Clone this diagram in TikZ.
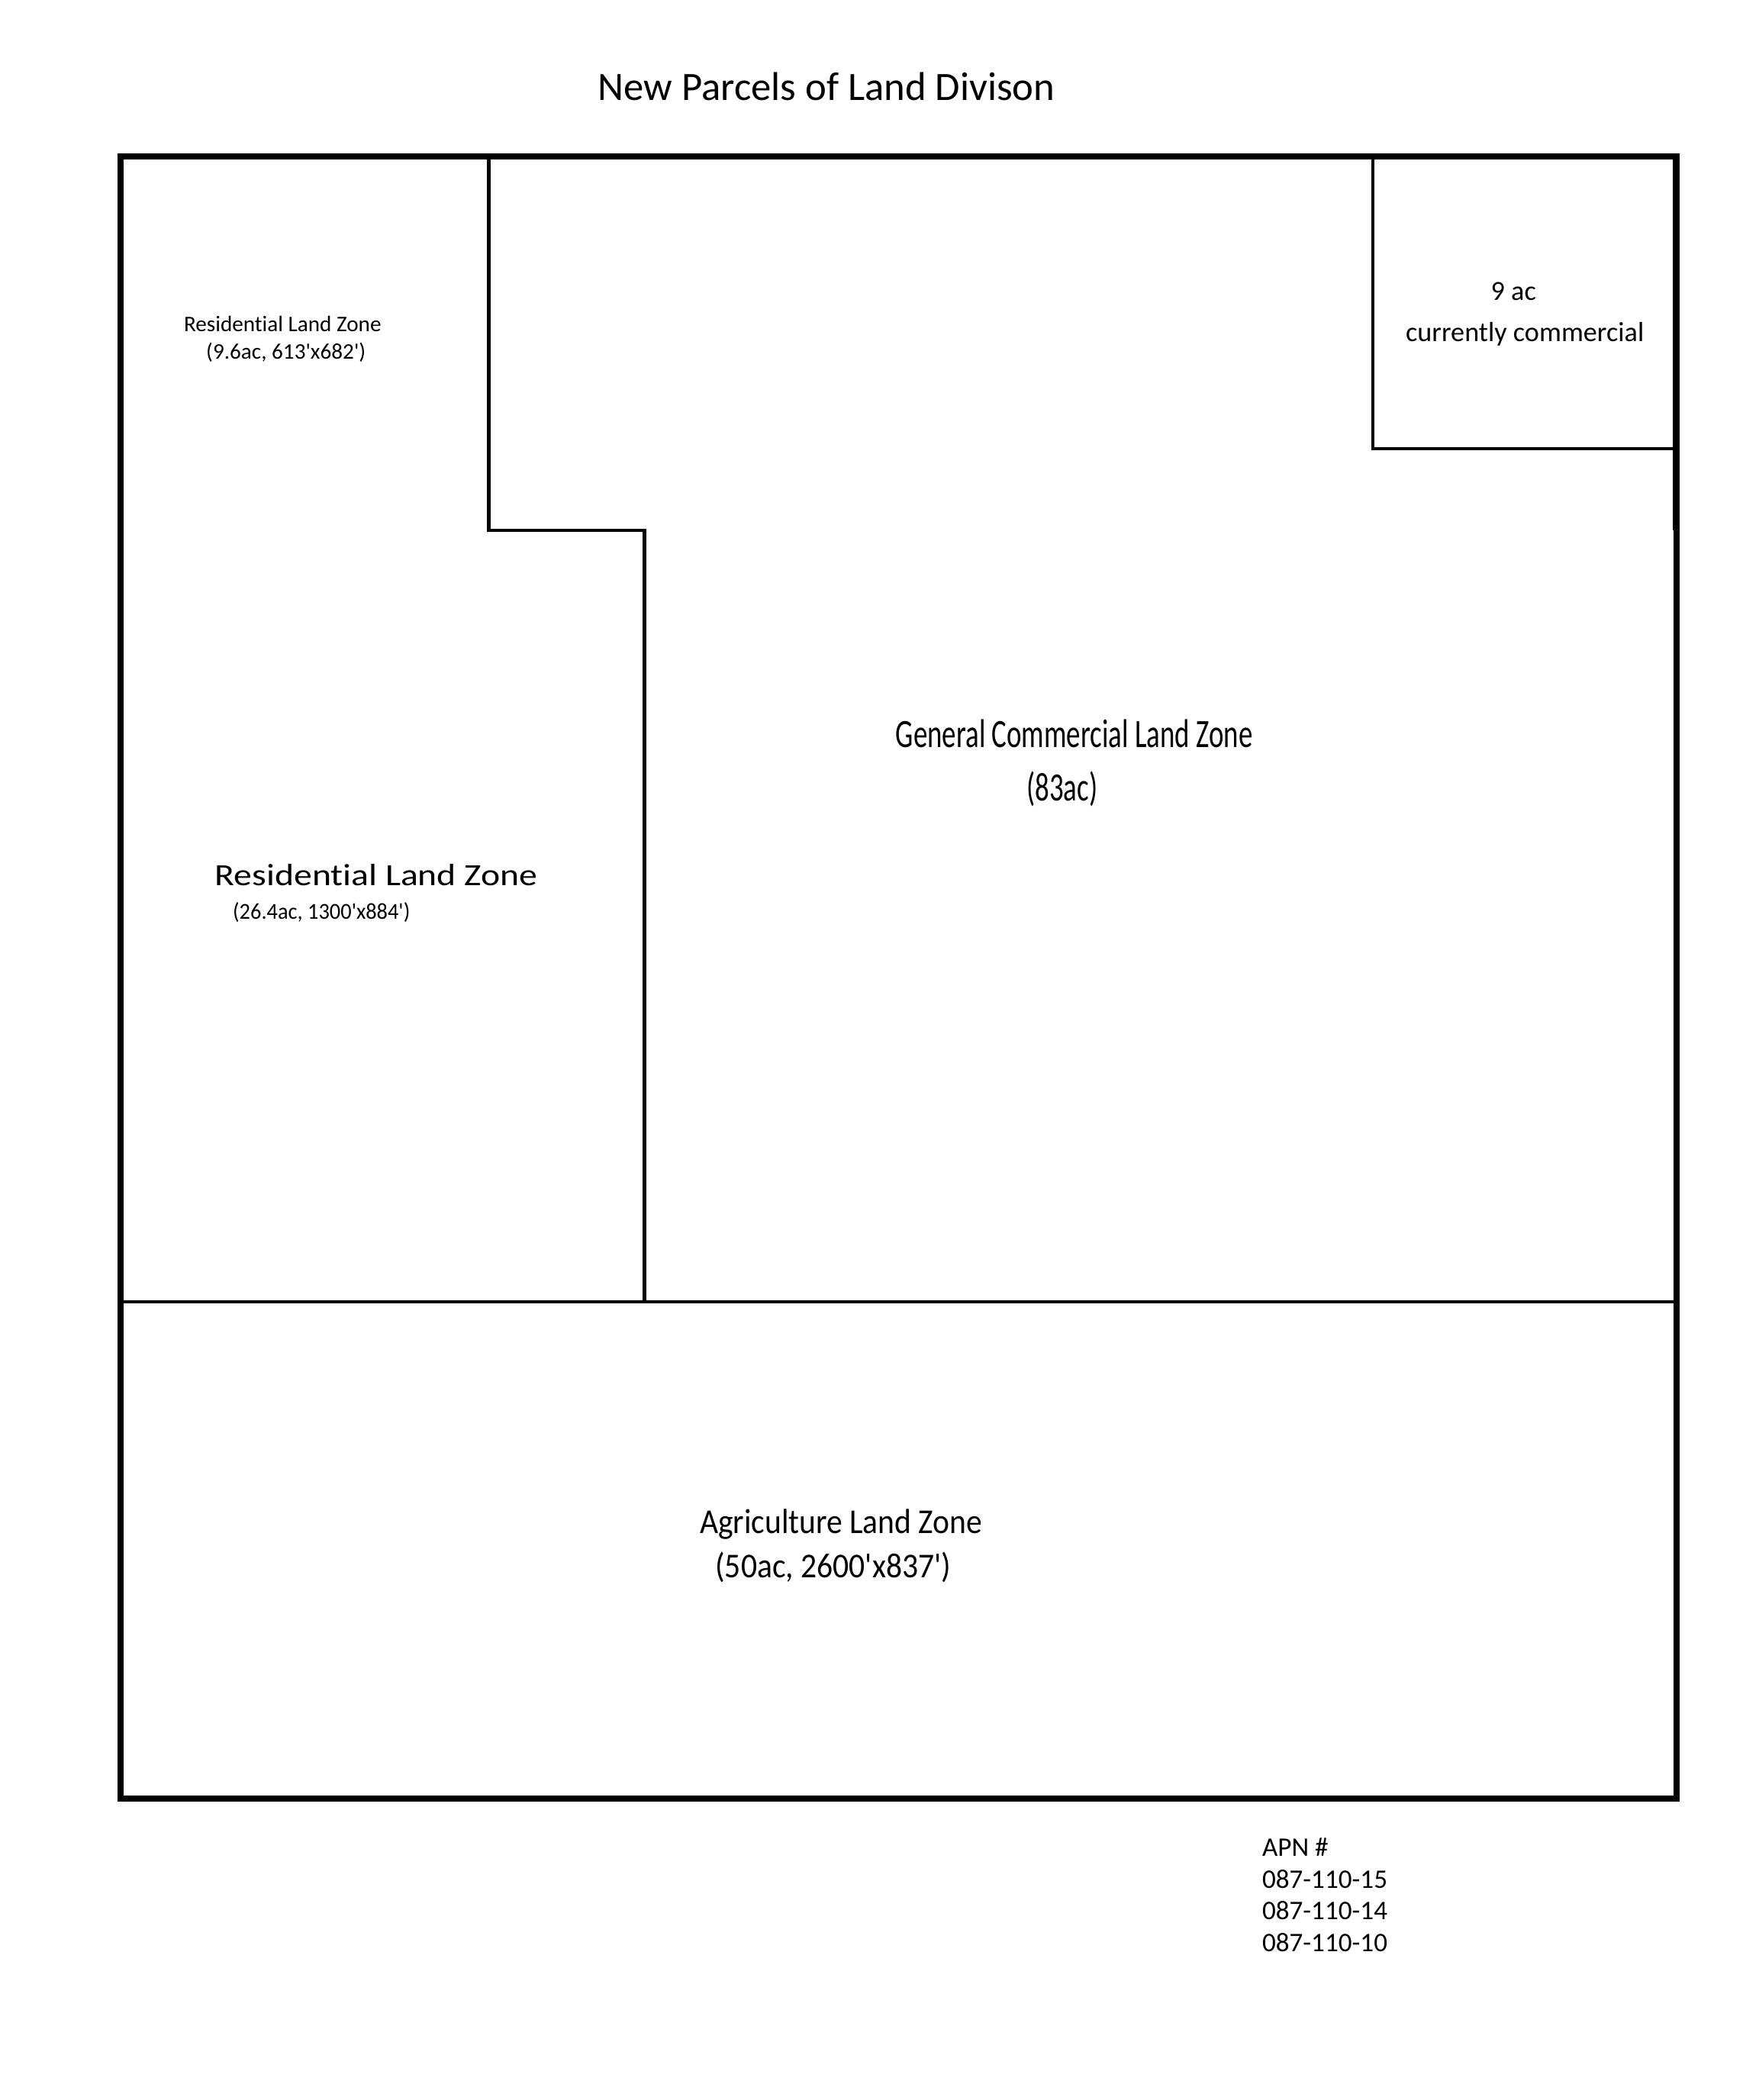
\documentclass[tikz,border=0pt]{standalone}
\usepackage{fontspec}
\setmainfont{Carlito}[Ligatures={NoCommon}]
\definecolor{plotblack}{RGB}{0,0,0}
\newcommand{\feet}{\textquotesingle}

\begin{document}
\begin{tikzpicture}[x=0.01755cm, y=-0.01755cm,
  every node/.style={inner sep=0pt, text=plotblack},
  boundary/.style={draw=plotblack, line width=2.3pt},
  divide/.style={draw=plotblack, line width=1.4pt},
  apn/.style={anchor=base west, font=\fontsize{10}{12}\selectfont}]
\useasboundingbox (0,0) rectangle (1313,1568);

% Title
\node[anchor=base, font=\fontsize{15}{18}\selectfont] (title) at (617, 75) {New Parcels of Land Divison};

% Parcel outline and dividing lines
\draw[boundary] (90,117) rectangle (1252,1343);
\draw[divide] (365,117) -- (365,396) -- (481,396) -- (481,972);
\draw[divide] (90,972) -- (1252,972);
\draw[divide] (1025,118) -- (1025,335) -- (1251,335);
\draw[divide] (1250.5,118) -- (1250.5,396);

% Small residential parcel
\node[anchor=base, font=\fontsize{8.3}{10}\selectfont] (resnorth) at (211, 247.5) {Residential Land Zone};
\node[anchor=base, font=\fontsize{8.3}{10}\selectfont] (resnorthsize) at (213.5, 268) {(9.6ac, 613\feet x682\feet)};

% Existing commercial corner
\node[anchor=base, font=\fontsize{10.3}{12}\selectfont] (corner) at (1130, 224) {9 ac};
\node[anchor=base, font=\fontsize{10.3}{12}\selectfont] (cornernote) at (1138.5, 255) {currently commercial};

% General commercial parcel
\node[anchor=base, font=\fontsize{15}{18}\selectfont, xscale=0.7] (commercial) at (802, 558) {General Commercial Land Zone};
\node[anchor=base, font=\fontsize{15}{18}\selectfont, xscale=0.7] (commercialsize) at (793, 598) {(83ac)};

% Large residential parcel
\node[anchor=base, font=\fontsize{11.5}{14}\selectfont, xscale=1.18] (ressouth) at (281, 661) {Residential Land Zone};
\node[anchor=base, font=\fontsize{8.5}{10}\selectfont, xscale=0.95] (ressouthsize) at (240, 686.5) {(26.4ac, 1300\feet x884\feet)};

% Agriculture parcel
\node[anchor=base, font=\fontsize{13}{16}\selectfont, xscale=0.91] (agri) at (628, 1145) {Agriculture Land Zone};
\node[anchor=base, font=\fontsize{13}{16}\selectfont, xscale=0.91] (agrisize) at (622, 1178) {(50ac, 2600\feet x837\feet)};

% Parcel numbers
\node[apn] (apnhead) at (942, 1386) {APN \#};
\foreach \num [count=\i] in {087-110-15, 087-110-14, 087-110-10}
  \node[apn] (apn\i) at (942, 1386+23.7*\i) {\num};
\end{tikzpicture}
\end{document}
